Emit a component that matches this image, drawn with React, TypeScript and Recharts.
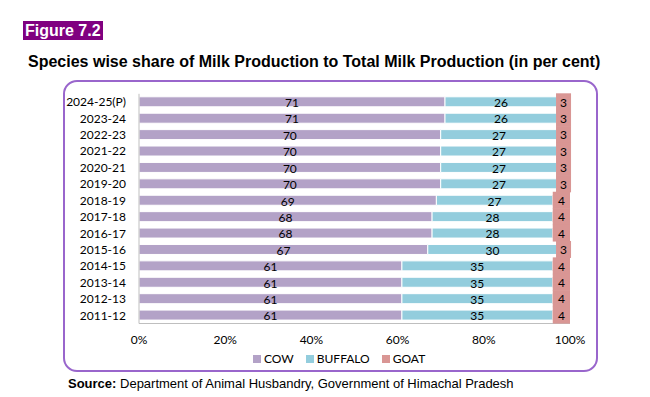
import React from 'react';
import { BarChart, Bar, XAxis, YAxis, Legend, LabelList } from 'recharts';

const years = ['2024-25(P)', '2023-24', '2022-23', '2021-22', '2020-21', '2019-20', '2018-19', '2017-18', '2016-17', '2015-16', '2014-15', '2013-14', '2012-13', '2011-12'];
const cow = [71, 71, 70, 70, 70, 70, 69, 68, 68, 67, 61, 61, 61, 61];
const buffalo = [26, 26, 27, 27, 27, 27, 27, 28, 28, 30, 35, 35, 35, 35];
const goat = [3, 3, 3, 3, 3, 3, 4, 4, 4, 3, 4, 4, 4, 4];
const xTicks = [0, 20, 40, 60, 80, 100];
const seriesOrder = ['COW', 'BUFFALO', 'GOAT'];

const data = years.map((y, i) => ({ year: y, COW: cow[i], BUFFALO: buffalo[i], GOAT: goat[i] }));

const COW_C = '#B3A2C7';
const BUF_C = '#93CDDD';
const GOAT_C = '#D99694';
const LABEL_FONT = 'Lato, "Open Sans", sans-serif';

const GoatLabel = (props: any) => {
  const { x, y, width, height, value } = props;
  const cx = Number(x) + Number(width) / 2;
  const cy = Number(y) + Number(height) / 2;
  const w = Math.max(Number(width), 15);
  return (
    <g>
      <rect x={cx - w / 2} y={cy - 8.5} width={w} height={17} fill={GOAT_C} />
      <text x={cx} y={cy} dy="0.4em" textAnchor="middle" fontSize={12} fill="#000" fontFamily={LABEL_FONT}>
        {value}
      </text>
    </g>
  );
};

const LegendContent = (props: any) => {
  const payload = [...(props.payload || [])].sort(
    (a: any, b: any) => seriesOrder.indexOf(a.value) - seriesOrder.indexOf(b.value)
  );
  return (
    <div style={{ display: 'flex', alignItems: 'center', fontFamily: LABEL_FONT, fontSize: 12, color: '#000', whiteSpace: 'nowrap' }}>
      {payload.map((e: any) => (
        <span key={e.value} style={{ display: 'flex', alignItems: 'center', marginRight: 12 }}>
          <span style={{ display: 'inline-block', width: 8, height: 8, background: e.color, marginRight: 3 }} />
          <span>{e.value}</span>
        </span>
      ))}
    </div>
  );
};

export default function App() {
  return (
    <div style={{ position: 'absolute', left: 0, top: 0, width: 650, height: 397, background: '#fff', fontFamily: '"Liberation Sans", Arial, sans-serif', overflow: 'hidden' }}>
      <div style={{ position: 'absolute', left: 23, top: 21, height: 19, lineHeight: '19px', background: '#800080', color: '#fff', fontWeight: 'bold', fontSize: 16, padding: '0 2px' }}>
        Figure 7.2
      </div>
      <div style={{ position: 'absolute', left: 28, top: 52, fontWeight: 'bold', fontSize: 16, lineHeight: '19px', color: '#000', whiteSpace: 'nowrap' }}>
        Species wise share of Milk Production to Total Milk Production (in per cent)
      </div>
      <div style={{ position: 'absolute', left: 63, top: 80, width: 535, height: 292, border: '2px solid #9966CC', borderRadius: 14, boxSizing: 'border-box' }} />
      <div style={{ position: 'absolute', left: 0, top: 0 }}>
        <BarChart
          width={650}
          height={397}
          data={data}
          layout="vertical"
          margin={{ top: 93.8, right: 80, bottom: 43.5, left: 69 }}
          barSize={10}
          style={{ fontFamily: LABEL_FONT }}
        >
          <XAxis
            type="number"
            domain={[0, 100]}
            ticks={xTicks}
            tickFormatter={(v: number) => `${v}%`}
            axisLine={{ stroke: '#BFBFBF' }}
            tickLine={false}
            tickMargin={6}
            height={30}
            tick={{ fill: '#000', fontSize: 12 }}
            interval={0}
          />
          <YAxis
            type="category"
            dataKey="year"
            width={70}
            axisLine={{ stroke: '#BFBFBF' }}
            tickLine={false}
            tickMargin={7}
            tick={{ fill: '#000', fontSize: 12 }}
            interval={0}
          />
          <Legend
            verticalAlign="middle"
            align="center"
            layout="horizontal"
            content={<LegendContent />}
            wrapperStyle={{ left: 253, top: 351, width: 'auto', bottom: 'auto' }}
          />
          <Bar dataKey="COW" stackId="a" fill={COW_C} stroke="#fff" strokeWidth={1} isAnimationActive={false}>
            <LabelList dataKey="COW" position="center" fill="#000" fontSize={12} dy={1} />
          </Bar>
          <Bar dataKey="BUFFALO" stackId="a" fill={BUF_C} stroke="#fff" strokeWidth={1} isAnimationActive={false}>
            <LabelList dataKey="BUFFALO" position="center" fill="#000" fontSize={12} dy={1} />
          </Bar>
          <Bar dataKey="GOAT" stackId="a" fill={GOAT_C} isAnimationActive={false}>
            <LabelList dataKey="GOAT" content={<GoatLabel />} />
          </Bar>
        </BarChart>
      </div>
      <div style={{ position: 'absolute', left: 68, top: 376, fontSize: 13, lineHeight: '16px', color: '#000', whiteSpace: 'nowrap' }}>
        <b>Source:</b> Department of Animal Husbandry, Government of Himachal Pradesh
      </div>
    </div>
  );
}
